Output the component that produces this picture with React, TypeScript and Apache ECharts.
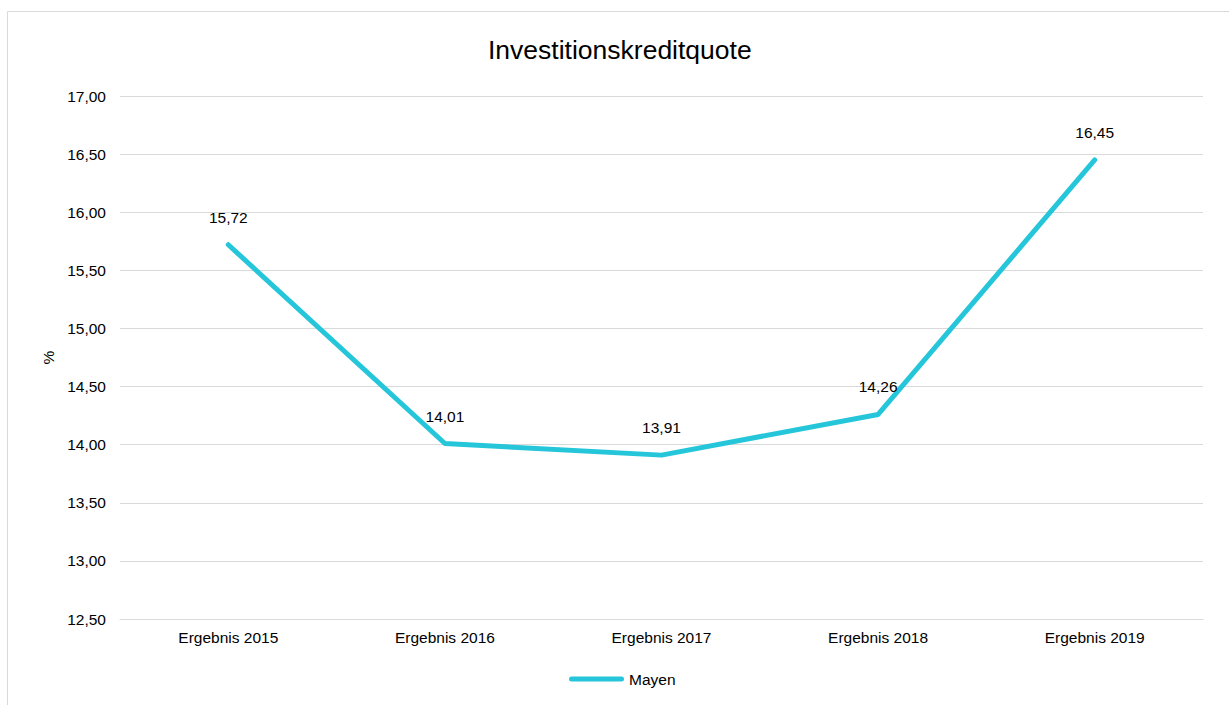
import React, { useEffect, useRef } from "react";
import * as echarts from "echarts";

const categories = ["Ergebnis 2015", "Ergebnis 2016", "Ergebnis 2017", "Ergebnis 2018", "Ergebnis 2019"];
const mayenValues = [15.72, 14.01, 13.91, 14.26, 16.45];
const seriesName = "Mayen";
const titleText = "Investitionskreditquote";
const yAxisName = "%";

const FONT = "Liberation Sans, Arial, sans-serif";
const fmt = (v: number) => v.toFixed(2).replace(".", ",");
const LINE_COLOR = "#26C6DA";

export default function App() {
  const ref = useRef<HTMLDivElement>(null);
  useEffect(() => {
    if (!ref.current) return;
    const chart = echarts.init(ref.current, null, { renderer: "svg" });
    chart.setOption({
      animation: false,
      backgroundColor: "#ffffff",
      graphic: [
        {
          type: "rect",
          shape: { x: 7.5, y: 11.5, width: 1240, height: 720 },
          style: { fill: "none", stroke: "#d9d9d9", lineWidth: 1 },
          silent: true,
        },
      ],
      title: {
        text: titleText,
        left: 483,
        top: 31,
        textStyle: { fontFamily: FONT, fontSize: 26.5, fontWeight: "normal", color: "#000" },
      },
      legend: {
        data: [seriesName],
        bottom: 13,
        left: 564,
        itemWidth: 55,
        itemHeight: 5,
        itemGap: 4,
        icon: "path://M2.5,0 H52.5 A2.5,2.5 0 0 1 52.5,5 H2.5 A2.5,2.5 0 0 1 2.5,0 Z",
        itemStyle: { color: LINE_COLOR, borderWidth: 0, opacity: 1 },
        textStyle: { fontFamily: FONT, fontSize: 15.5, color: "#000" },
      },
      grid: { left: 120, right: 26, top: 96, bottom: 86, containLabel: false },
      xAxis: {
        type: "category",
        data: categories,
        boundaryGap: true,
        axisLine: { show: true, lineStyle: { color: "#d9d9d9", width: 1 } },
        axisTick: { show: false },
        axisLabel: { fontFamily: FONT, fontSize: 15.5, color: "#000", margin: 10 },
      },
      yAxis: {
        type: "value",
        min: 12.5,
        max: 17,
        interval: 0.5,
        name: yAxisName,
        nameLocation: "middle",
        nameRotate: 90,
        nameGap: 64,
        nameTextStyle: { fontFamily: FONT, fontSize: 15.5, color: "#000" },
        axisLine: { show: false },
        axisTick: { show: false },
        axisLabel: { fontFamily: FONT, fontSize: 15.5, color: "#000", margin: 14, formatter: (v: number) => fmt(v) },
        splitLine: { show: true, lineStyle: { color: "#d9d9d9", width: 1 } },
      },
      series: [
        {
          name: seriesName,
          type: "line",
          data: mayenValues,
          symbol: "circle",
          symbolSize: 1,
          showSymbol: true,
          lineStyle: { color: LINE_COLOR, width: 5, cap: "round", join: "round" },
          itemStyle: { color: LINE_COLOR },
          label: {
            show: true,
            position: "top",
            distance: 19,
            fontFamily: FONT,
            fontSize: 15.5,
            color: "#000",
            formatter: (p: any) => fmt(p.value),
          },
        },
      ],
    });
    return () => chart.dispose();
  }, []);
  return (
    <div
      ref={ref}
      style={{ position: "fixed", left: 0, top: 0, width: 1229, height: 705, background: "#fff" }}
    />
  );
}
